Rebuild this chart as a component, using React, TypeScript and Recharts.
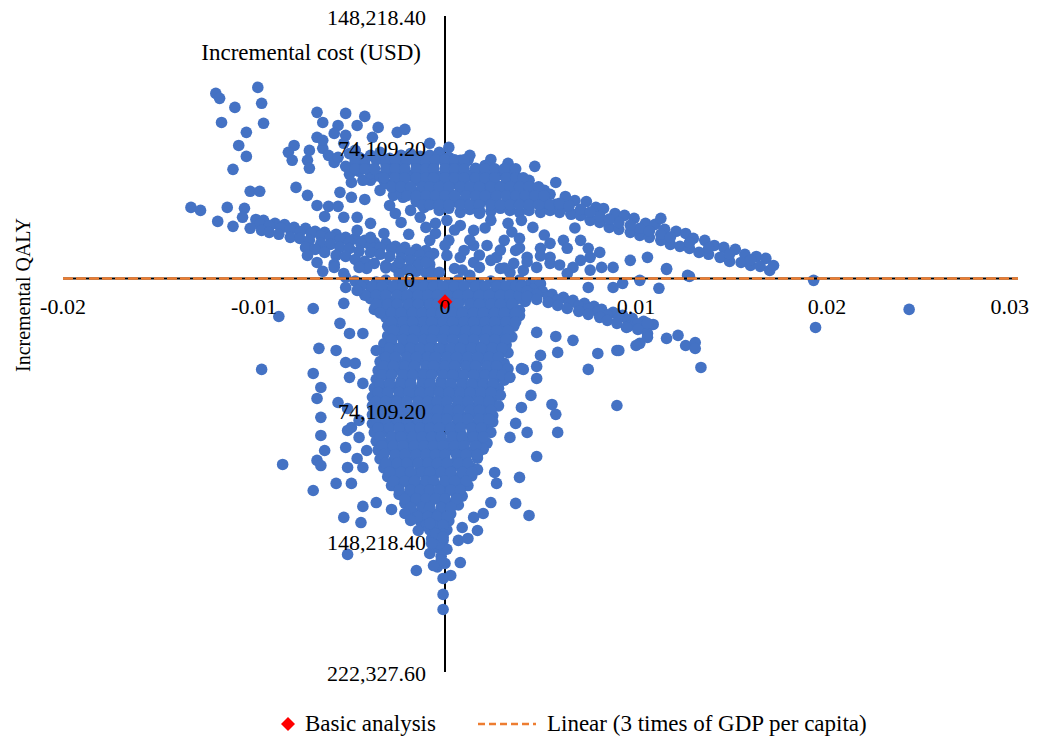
import React from 'react';
import { ScatterChart, Scatter, XAxis, YAxis, Legend } from 'recharts';

type Pair = [number, number];

// ---- Monte Carlo simulations: [incremental QALY, incremental cost (USD)] ----
const upperLeftOutliers: Pair[] = [
  [-0.0120,104500],[-0.0118,101700],[-0.0098,107900],[-0.0096,98900],[-0.0110,96600],[-0.0095,87600],
  [-0.0117,88100],[-0.0104,82500],[-0.0108,75100],[-0.0104,68900],[-0.0111,61600],[-0.0102,49200],
  [-0.0097,49200],[-0.0133,40100],[-0.0128,38400],[-0.0114,40100],[-0.0105,39600],[-0.0119,32200],
  [-0.0111,29400],[-0.0106,34500],
];

const leftBand: Pair[] = [
  [-0.0099,33300],[-0.0095,32800],[-0.0089,31100],[-0.0084,30400],[-0.0079,28800],[-0.0073,28300],
  [-0.0068,26600],[-0.0063,26000],[-0.0057,24900],[-0.0052,23200],[-0.0047,22600],[-0.0042,21500],
  [-0.0037,20300],[-0.0031,19800],[-0.0026,18100],[-0.0021,17500],[-0.0015,16400],[-0.0010,15800],
  [-0.0006,14100],
  [-0.0097,30500],[-0.0092,29800],[-0.0086,28400],[-0.0081,27600],[-0.0076,26300],[-0.0070,25400],
  [-0.0065,24100],[-0.0060,23300],[-0.0055,22000],[-0.0050,20600],[-0.0044,19600],[-0.0039,18400],
  [-0.0034,17300],[-0.0028,16500],[-0.0023,15200],[-0.0018,14300],[-0.0013,13100],[-0.0008,12200],
  [-0.0102,28300],[-0.0096,27100],[-0.0092,26000],[-0.0087,24900],[-0.0081,23200],[-0.0076,22600],
  [-0.0071,21500],[-0.0065,19800],[-0.0060,19200],[-0.0055,17500],[-0.0050,16900],[-0.0045,15300],
  [-0.0039,14700],[-0.0034,13600],[-0.0029,12400],[-0.0023,11300],[-0.0018,10200],[-0.0013,9000],
  [-0.0008,7900],
  [-0.0073,17500],[-0.0068,16400],[-0.0063,14700],[-0.0057,13000],[-0.0052,12400],[-0.0047,10700],
  [-0.0042,9600],[-0.0037,8500],[-0.0031,7300],[-0.0026,6200],[-0.0021,5100],[-0.0015,4000],[-0.0010,3400],
  [-0.0072,13000],[-0.0067,9000],[-0.0064,4000],[-0.0058,7900],[-0.0053,2800],[-0.0041,5600],
  [-0.0058,6200],[-0.0052,500],[-0.0045,6200],
  [-0.0031,5900],[-0.0024,2500],[-0.0014,7600],[-0.0007,3600],
];

const upperLeftScatter: Pair[] = [
  [-0.0078,51400],[-0.0072,46900],[-0.0067,41200],[-0.0061,40700],[-0.0063,35000],[-0.0056,40700],
  [-0.0055,48600],[-0.0049,45800],[-0.0042,44600],[-0.0053,34500],[-0.0046,34500],[-0.0039,31100],
  [-0.0049,54200],[-0.0039,55400],[-0.0032,55400],[-0.0034,49700],[-0.0027,46900],[-0.0022,45800],
  [-0.0029,41200],[-0.0011,40100],[-0.0013,34500],[-0.0005,31100],[-0.0005,25400],[-0.0032,25400],
  [-0.0039,23200],[-0.0046,27100],[-0.0043,55400],[-0.0038,57100],[-0.0018,38400],[-0.0010,28800],
  [-0.0023,31600],[-0.0008,21500],[-0.0019,24900],[-0.0026,36700],[-0.0015,44100],[-0.0008,46900],
];

const upperClusterTop: Pair[] = [
  [-0.0067,93800],[-0.0064,88100],[-0.0052,93200],[-0.0046,86400],[-0.0042,91500],[-0.0056,86400],
  [-0.0058,81900],[-0.0067,79700],[-0.0035,85300],[-0.0025,82500],[-0.0021,84200],[-0.0038,79700],
  [-0.0052,80800],[-0.0079,75100],[-0.0082,71200],[-0.0080,66700],[-0.0071,72300],[-0.0072,66700],
  [-0.0071,62200],[-0.0064,73500],[-0.0061,69500],[-0.0058,65500],[-0.0064,78000],[-0.0008,76300],
  [0.0002,74000],[-0.0053,76300],[-0.0047,72300],[-0.0056,68400],[0.0024,67200],[0.0033,65000],
  [0.0047,63300],[0.0058,54200],[0.0012,66700],
];

const upperClusterCore: Pair[] = [
  [-0.0050,70500],[-0.0045,68400],[-0.0039,69500],[-0.0034,71200],[-0.0029,67800],[-0.0023,69500],
  [-0.0018,70500],[-0.0013,68900],[-0.0008,69500],[-0.0003,71200],[0.0002,68400],[0.0008,66700],[0.0013,69500],
  [-0.0052,63300],[-0.0047,65500],[-0.0042,64400],[-0.0037,62200],[-0.0031,64900],[-0.0026,63800],
  [-0.0021,65500],[-0.0015,64400],[-0.0010,62700],[-0.0006,64400],[0.0000,65500],[0.0005,63300],
  [0.0010,64400],[0.0016,62200],[0.0021,63800],[0.0026,61600],[0.0032,62200],
  [-0.0050,58800],[-0.0045,60500],[-0.0039,59300],[-0.0034,57600],[-0.0029,59900],[-0.0023,59300],
  [-0.0018,58200],[-0.0013,60500],[-0.0008,59300],[-0.0003,57600],[0.0002,59300],[0.0008,60500],
  [0.0013,58200],[0.0018,59300],[0.0024,57100],[0.0029,58800],[0.0034,57600],[0.0039,56500],[0.0044,55400],
  [-0.0031,53700],[-0.0026,54800],[-0.0021,53100],[-0.0015,55400],[-0.0010,54200],[-0.0006,52500],
  [0.0000,54800],[0.0005,53700],[0.0010,55400],[0.0016,54200],[0.0021,52500],[0.0026,53700],
  [0.0032,54200],[0.0037,52000],[0.0041,53100],[0.0047,50900],[0.0052,49700],
  [-0.0023,48600],[-0.0018,50300],[-0.0013,49200],[-0.0008,47500],[-0.0003,49700],[0.0002,48600],
  [0.0008,50300],[0.0013,49200],[0.0018,47500],[0.0024,48600],[0.0029,49700],[0.0034,48000],
  [0.0039,49200],[0.0044,47500],[0.0050,46900],[0.0055,47500],
  [-0.0015,43500],[-0.0010,44600],[-0.0006,42400],[0.0000,45200],[0.0005,43500],[0.0010,44100],
  [0.0016,42900],[0.0021,44600],[0.0026,43500],[0.0032,42400],[0.0037,44100],[0.0041,42900],
  [0.0047,43500],[0.0052,42400],[0.0058,41800],[0.0063,40700],
  [-0.0003,38400],[0.0002,39600],[0.0008,37300],[0.0013,39000],[0.0018,38400],[0.0024,37900],
  [0.0029,39600],[0.0034,38400],[0.0039,37300],[0.0044,38400],[0.0050,37300],[0.0055,38400],
  [0.0060,37300],[0.0066,36200],[0.0071,35600],
];

// interior rows of the upper cluster: one cost per row, QALY values listed
const upperFillCosts = [67000, 61900, 56800, 51700, 46700, 41600];
const upperFillQaly: number[][] = [
  [-0.0047,-0.0042,-0.0036,-0.0031,-0.0026,-0.0020,-0.0015,-0.0010,-0.0005,0.0000,0.0005,0.0010],
  [-0.0047,-0.0042,-0.0037,-0.0031,-0.0026,-0.0021,-0.0015,-0.0010,-0.0006,0.0000,0.0005,0.0010,0.0016,0.0021,0.0026,0.0031,0.0037],
  [-0.0032,-0.0026,-0.0021,-0.0015,-0.0010,-0.0006,0.0000,0.0005,0.0010,0.0016,0.0021,0.0026,0.0032,0.0037,0.0041],
  [-0.0028,-0.0023,-0.0018,-0.0012,-0.0008,-0.0003,0.0002,0.0008,0.0013,0.0018,0.0024,0.0029,0.0034,0.0039,0.0044,0.0049],
  [-0.0020,-0.0015,-0.0010,-0.0005,0.0000,0.0005,0.0011,0.0016,0.0021,0.0027,0.0032,0.0037,0.0042,0.0047,0.0052],
  [-0.0012,-0.0008,-0.0003,0.0002,0.0008,0.0013,0.0018,0.0024,0.0029,0.0034,0.0039,0.0044,0.0049,0.0055,0.0060],
];

const upperRightBand: Pair[] = [
  [0.0063,46300],[0.0068,44000],[0.0074,43400],[0.0079,40200],[0.0083,39500],[0.0089,36700],
  [0.0094,35600],[0.0099,33900],[0.0105,31100],[0.0110,30500],[0.0115,27700],[0.0121,26600],
  [0.0126,25400],[0.0130,22600],[0.0136,21500],[0.0141,18600],[0.0146,17500],[0.0152,16400],
  [0.0157,13600],[0.0163,12400],[0.0168,11300],
  [0.0066,36700],[0.0071,35600],[0.0076,32800],[0.0081,31600],[0.0086,28800],[0.0091,27700],
  [0.0097,26000],[0.0102,24300],[0.0107,23200],[0.0113,21500],[0.0118,19200],[0.0123,18100],
  [0.0128,16900],[0.0133,14700],[0.0138,13600],[0.0144,11900],[0.0149,9600],[0.0155,9000],
  [0.0160,7300],[0.0165,6800],[0.0170,4500],
  [0.0060,42400],[0.0071,39000],[0.0081,35000],[0.0091,31600],[0.0102,28300],[0.0113,24900],
  [0.0065,41000],[0.0076,37500],[0.0086,33500],[0.0097,30000],[0.0107,26800],[0.0118,23300],
  [0.0128,20200],[0.0138,17000],[0.0149,13800],[0.0160,10500],
];

const aboveAxisScatter: Pair[] = [
  [0.0001,32800],[0.0008,29900],[0.0015,27100],[0.0022,18600],[0.0031,21500],[0.0037,15800],
  [0.0039,22600],[0.0046,28800],[0.0050,17000],[0.0055,19800],[0.0055,11900],[0.0062,21500],
  [0.0064,17000],[0.0071,21500],[0.0075,17000],[0.0076,11900],[0.0081,14700],[0.0067,6200],
  [0.0071,10200],[0.0027,11900],[0.0036,8500],[0.0043,11900],[0.0048,6200],[0.0055,8500],
  [0.0064,2800],[0.0082,6200],[0.0088,6200],[0.0097,10200],[0.0106,11900],[0.0116,5600],
  [0.0127,1700],[0.0113,33900],[0.0029,5600],[0.0015,9000],[0.0008,11900],[0.0015,18600],
  [0.0002,21500],[0.0001,13000],[0.0018,6200],[0.0005,5600],[0.0128,1100],[0.0116,5100],
  [0.0024,32800],[0.0033,31100],[0.0040,32800],[0.0018,36700],[0.0000,18600],[0.0010,15800],
  [0.0024,10200],[0.0034,3400],[0.0041,4500],[0.0013,1700],[-0.0003,3400],[-0.0010,9000],
  [-0.0018,4500],[-0.0024,9000],
  [0.0005,27300],[0.0013,21700],[0.0021,28500],[0.0029,16000],[0.0035,26200],[0.0043,9300],
  [0.0052,24500],[0.0060,7600],[0.0068,28500],[0.0076,4700],[0.0009,4700],[0.0018,13200],
  [0.0031,5900],[0.0039,17200],[0.0050,12700],
];

const coreBlob: Pair[] = [
  [-0.0047,-1500],[-0.0042,-3000],[-0.0036,-2000],[-0.0031,-1000],[-0.0025,-2500],[-0.0020,-2000],
  [-0.0014,-3000],[-0.0009,-1500],[-0.0004,-2000],[0.0002,-2500],[0.0007,-1000],[0.0013,-2000],
  [0.0018,-3000],[0.0024,-1500],[0.0029,-2500],[0.0035,-2000],[0.0039,-1000],[0.0045,-2500],[0.0050,-3000],
  [-0.0045,-6500],[-0.0039,-8000],[-0.0034,-7000],[-0.0028,-6000],[-0.0023,-7500],[-0.0017,-8000],
  [-0.0012,-6500],[-0.0007,-7000],[-0.0001,-7500],[0.0004,-6000],[0.0010,-7000],[0.0015,-8000],
  [0.0021,-6500],[0.0026,-7500],[0.0032,-7000],[0.0037,-6000],[0.0042,-8000],[0.0047,-7500],
  [-0.0039,-11500],[-0.0034,-12500],[-0.0028,-13000],[-0.0023,-11000],[-0.0017,-12000],[-0.0012,-12500],
  [-0.0007,-11500],[-0.0001,-13000],[0.0004,-12000],[0.0010,-11000],[0.0015,-12500],[0.0021,-12000],
  [0.0026,-13000],[0.0032,-11500],[0.0037,-12000],[0.0042,-13000],
  [-0.0037,-17500],[-0.0031,-16500],[-0.0026,-18000],[-0.0020,-17000],[-0.0015,-16000],[-0.0009,-17500],
  [-0.0005,-18000],[0.0001,-16500],[0.0007,-17000],[0.0012,-18000],[0.0018,-16500],[0.0023,-17500],
  [0.0029,-17000],[0.0034,-16000],[0.0039,-18000],
  [-0.0031,-22000],[-0.0026,-23000],[-0.0020,-21500],[-0.0015,-22500],[-0.0009,-23000],[-0.0005,-21500],
  [0.0001,-22000],[0.0007,-23000],[0.0012,-22500],[0.0018,-21500],[0.0023,-22000],[0.0029,-23000],
  [0.0034,-22000],[0.0039,-21000],
  [-0.0030,-27000],[-0.0024,-26500],[-0.0019,-28000],[-0.0013,-27500],[-0.0008,-26500],[-0.0003,-27000],
  [0.0003,-28000],[0.0008,-26500],[0.0014,-27500],[0.0019,-27000],[0.0025,-28000],[0.0030,-26500],[0.0036,-27000],
  [-0.0030,-32500],[-0.0025,-31500],[-0.0019,-32000],[-0.0014,-33000],[-0.0008,-31500],[-0.0004,-32500],
  [0.0002,-32000],[0.0008,-31000],[0.0013,-33000],[0.0019,-32000],[0.0024,-31500],[0.0030,-32500],[0.0035,-33000],
  [-0.0032,-37000],[-0.0028,-36500],[-0.0022,-38000],[-0.0017,-37000],[-0.0011,-36000],[-0.0007,-37500],
  [-0.0001,-38000],[0.0005,-36500],[0.0010,-37000],[0.0016,-38000],[0.0021,-36500],[0.0027,-37000],[0.0032,-37500],
  [-0.0032,-42000],[-0.0027,-43000],[-0.0021,-41500],[-0.0016,-42500],[-0.0010,-43000],[-0.0006,-41500],
  [0.0000,-42000],[0.0006,-43000],[0.0011,-42500],[0.0017,-41500],[0.0022,-42000],[0.0028,-43000],[0.0033,-42000],
  [-0.0034,-47000],[-0.0029,-46500],[-0.0024,-48000],[-0.0018,-47000],[-0.0013,-46000],[-0.0008,-47500],
  [-0.0002,-48000],[0.0003,-46500],[0.0009,-47000],[0.0014,-48000],[0.0020,-46500],[0.0025,-47000],[0.0031,-48000],
  [-0.0035,-52000],[-0.0031,-53000],[-0.0026,-51500],[-0.0021,-52500],[-0.0015,-53000],[-0.0010,-51500],
  [-0.0005,-52000],[0.0001,-53000],[0.0006,-52500],[0.0012,-51500],[0.0017,-52000],[0.0023,-53000],
  [0.0028,-52000],[0.0033,-51000],
  [-0.0036,-57000],[-0.0029,-56500],[-0.0023,-58000],[-0.0018,-57000],[-0.0012,-56000],[-0.0008,-57500],
  [-0.0002,-58000],[0.0004,-56500],[0.0009,-57000],[0.0015,-58000],[0.0020,-56500],[0.0026,-57000],[0.0031,-57500],
  [-0.0037,-62000],[-0.0032,-63000],[-0.0026,-61500],[-0.0021,-62500],[-0.0015,-63000],[-0.0010,-61500],
  [-0.0005,-62000],[0.0001,-63000],[0.0006,-62500],[0.0012,-61500],[0.0017,-62000],[0.0023,-63000],[0.0028,-62000],
  [-0.0038,-67000],[-0.0034,-66500],[-0.0029,-68000],[-0.0024,-67000],[-0.0018,-66000],[-0.0013,-67500],
  [-0.0008,-68000],[-0.0002,-66500],[0.0003,-67000],[0.0009,-68000],[0.0014,-66500],[0.0020,-67000],
  [0.0025,-67500],[0.0029,-66000],
  [-0.0038,-72000],[-0.0032,-73000],[-0.0027,-71500],[-0.0021,-72500],[-0.0016,-73000],[-0.0010,-71500],
  [-0.0006,-72000],[0.0000,-73000],[0.0006,-72500],[0.0011,-71500],[0.0017,-72000],[0.0022,-73000],[0.0028,-72000],
  [-0.0038,-77000],[-0.0034,-76500],[-0.0029,-78000],[-0.0024,-77000],[-0.0018,-76000],[-0.0013,-77500],
  [-0.0008,-78000],[-0.0002,-76500],[0.0003,-77000],[0.0009,-78000],[0.0014,-76500],[0.0020,-77000],[0.0025,-77500],
  [-0.0038,-82000],[-0.0032,-83000],[-0.0027,-81500],[-0.0021,-82500],[-0.0016,-83000],[-0.0010,-81500],
  [-0.0006,-82000],[0.0000,-83000],[0.0006,-82500],[0.0011,-81500],[0.0017,-82000],[0.0022,-83000],[0.0025,-81000],
  [-0.0037,-87000],[-0.0030,-86500],[-0.0024,-88000],[-0.0019,-87000],[-0.0013,-86000],[-0.0008,-87500],
  [-0.0003,-88000],[0.0003,-86500],[0.0008,-87000],[0.0014,-88000],[0.0019,-86500],[0.0024,-87000],
  [-0.0036,-92000],[-0.0032,-93000],[-0.0027,-91500],[-0.0021,-92500],[-0.0016,-93000],[-0.0010,-91500],
  [-0.0006,-92000],[0.0000,-93000],[0.0006,-92500],[0.0011,-91500],[0.0017,-92000],[0.0022,-93000],
  [-0.0035,-97000],[-0.0029,-96500],[-0.0024,-98000],[-0.0018,-97000],[-0.0013,-96000],[-0.0008,-97500],
  [-0.0002,-98000],[0.0003,-96500],[0.0009,-97000],[0.0014,-98000],[0.0020,-96500],
  [-0.0034,-102000],[-0.0027,-103000],[-0.0021,-101500],[-0.0016,-102500],[-0.0010,-103000],[-0.0006,-101500],
  [0.0000,-102000],[0.0006,-103000],[0.0011,-102500],[0.0017,-101500],
  [-0.0032,-107000],[-0.0028,-108000],[-0.0024,-106500],[-0.0019,-107000],[-0.0013,-108000],[-0.0008,-106000],
  [-0.0003,-107500],[0.0003,-108000],[0.0008,-106500],[0.0014,-107000],[0.0017,-108000],
  [-0.0030,-112000],[-0.0026,-113000],[-0.0021,-111500],[-0.0016,-112500],[-0.0010,-113000],[-0.0006,-111500],
  [0.0000,-112000],[0.0006,-113000],[0.0011,-112500],[0.0014,-111500],
  [-0.0028,-117000],[-0.0024,-116500],[-0.0018,-118000],[-0.0013,-117000],[-0.0008,-116000],[-0.0002,-117500],
  [0.0003,-118000],[0.0009,-116500],[0.0012,-117000],
  [-0.0024,-122000],[-0.0020,-123000],[-0.0015,-121500],[-0.0010,-122500],[-0.0006,-123000],[0.0000,-121500],
  [0.0006,-122000],[0.0009,-123000],
  [-0.0021,-127000],[-0.0017,-126500],[-0.0012,-128000],[-0.0008,-127000],[-0.0002,-126000],[0.0003,-127500],[0.0007,-128000],
  [-0.0017,-132000],[-0.0012,-133000],[-0.0008,-131500],[-0.0003,-132500],[0.0003,-133000],
  [-0.0013,-137000],[-0.0008,-138000],[-0.0004,-136500],[0.0002,-137000],
  [-0.0008,-142000],[-0.0004,-143000],[0.0001,-142000],
  [-0.0007,-147000],[-0.0001,-148000],
  [-0.0004,-152000],[0.0001,-153000],
];

// interior rows of the central cloud: one cost per row, QALY values listed
const coreFillCosts = [
  -4500, -9500, -14500, -19500, -24500, -29500, -34500, -39500, -44500, -49500,
  -54500, -59500, -64500, -69500, -74500, -79500, -84500, -89500, -94500, -99500,
  -104500, -109500, -114500, -119500, -124500, -129500, -134500, -139500, -144500, -150000,
];
const coreFillQaly: number[][] = [
  [-0.0044,-0.0038,-0.0033,-0.0027,-0.0022,-0.0016,-0.0011,-0.0006,-0.0001,0.0005,0.0010,0.0016,0.0021,0.0027,0.0032,0.0037,0.0042],
  [-0.0042,-0.0036,-0.0031,-0.0025,-0.0020,-0.0014,-0.0009,-0.0004,0.0001,0.0007,0.0012,0.0018,0.0023,0.0029,0.0034,0.0039],
  [-0.0036,-0.0030,-0.0025,-0.0019,-0.0014,-0.0008,-0.0004,0.0002,0.0007,0.0013,0.0018,0.0024,0.0029,0.0035],
  [-0.0034,-0.0028,-0.0023,-0.0017,-0.0012,-0.0007,-0.0002,0.0004,0.0009,0.0015,0.0020,0.0026,0.0031,0.0037],
  [-0.0028,-0.0022,-0.0017,-0.0011,-0.0007,-0.0001,0.0004,0.0010,0.0015,0.0021,0.0026,0.0032,0.0037],
  [-0.0027,-0.0021,-0.0016,-0.0010,-0.0006,0.0000,0.0005,0.0011,0.0016,0.0022,0.0027,0.0033],
  [-0.0028,-0.0022,-0.0017,-0.0011,-0.0007,-0.0001,0.0004,0.0010,0.0015,0.0021,0.0026,0.0032],
  [-0.0029,-0.0024,-0.0018,-0.0013,-0.0008,-0.0003,0.0003,0.0008,0.0014,0.0019,0.0025,0.0030],
  [-0.0031,-0.0026,-0.0020,-0.0015,-0.0009,-0.0005,0.0001,0.0006,0.0012,0.0017,0.0023,0.0028],
  [-0.0032,-0.0027,-0.0021,-0.0016,-0.0010,-0.0006,0.0000,0.0005,0.0011,0.0016,0.0022,0.0027],
  [-0.0033,-0.0028,-0.0022,-0.0017,-0.0011,-0.0007,-0.0001,0.0004,0.0010,0.0015,0.0021,0.0026,0.0030],
  [-0.0034,-0.0029,-0.0023,-0.0018,-0.0012,-0.0008,-0.0002,0.0003,0.0009,0.0014,0.0020,0.0025],
  [-0.0035,-0.0030,-0.0024,-0.0019,-0.0013,-0.0008,-0.0003,0.0002,0.0008,0.0013,0.0019,0.0024],
  [-0.0036,-0.0031,-0.0025,-0.0020,-0.0014,-0.0009,-0.0004,0.0001,0.0007,0.0012,0.0018,0.0023],
  [-0.0036,-0.0030,-0.0025,-0.0019,-0.0014,-0.0008,-0.0004,0.0002,0.0007,0.0013,0.0018,0.0024],
  [-0.0036,-0.0031,-0.0025,-0.0020,-0.0014,-0.0009,-0.0004,0.0001,0.0007,0.0012,0.0018,0.0023],
  [-0.0035,-0.0029,-0.0024,-0.0018,-0.0013,-0.0008,-0.0003,0.0003,0.0008,0.0014,0.0019],
  [-0.0034,-0.0028,-0.0023,-0.0017,-0.0012,-0.0007,-0.0002,0.0004,0.0009,0.0015,0.0020],
  [-0.0033,-0.0027,-0.0022,-0.0016,-0.0011,-0.0006,-0.0001,0.0005,0.0010,0.0016],
  [-0.0032,-0.0026,-0.0021,-0.0015,-0.0010,-0.0005,0.0000,0.0006,0.0011,0.0017],
  [-0.0031,-0.0025,-0.0020,-0.0014,-0.0009,-0.0004,0.0001,0.0007,0.0012],
  [-0.0029,-0.0023,-0.0018,-0.0012,-0.0008,-0.0002,0.0003,0.0009,0.0014],
  [-0.0027,-0.0021,-0.0016,-0.0010,-0.0006,0.0000,0.0005,0.0011],
  [-0.0024,-0.0018,-0.0013,-0.0008,-0.0003,0.0003,0.0008],
  [-0.0021,-0.0015,-0.0010,-0.0005,0.0000,0.0006],
  [-0.0018,-0.0012,-0.0008,-0.0002,0.0003],
  [-0.0014,-0.0009,-0.0004,0.0001],
  [-0.0010,-0.0006,-0.0001],
  [-0.0006,-0.0001],
  [-0.0003],
];

const blobFringe: Pair[] = [
  [-0.0069,-17000],[-0.0066,-39500],[-0.0057,-40700],[-0.0069,-53700],[-0.0065,-61600],[-0.0067,-67800],
  [-0.0065,-78500],[-0.0065,-88700],[-0.0063,-97200],[-0.0067,-102800],[-0.0055,-25400],[-0.0053,-14100],
  [-0.0052,-5100],[-0.0046,-6800],[-0.0050,-31100],[-0.0043,-31100],[-0.0052,-47500],[-0.0047,-48000],
  [-0.0050,-55900],[-0.0043,-59300],[-0.0056,-70100],[-0.0051,-73500],[-0.0045,-80200],[-0.0051,-85900],
  [-0.0052,-95500],[-0.0046,-101700],[-0.0051,-106800],[-0.0043,-106800],[-0.0036,-40700],[-0.0087,-21500],
  [-0.0096,-51400],[-0.0085,-105100],[-0.0069,-119800],[-0.0057,-115800],[-0.0049,-115800],[-0.0065,-105700],
  [-0.0053,-135000],[-0.0043,-128800],[-0.0044,-137900],[-0.0051,-155900],[-0.0036,-126600],[-0.0028,-130500],
  [-0.0021,-132800],[-0.0049,-84200],[-0.0045,-89800],[-0.0041,-97200],
  [0.0037,-127100],[0.0044,-133900],[0.0048,-100600],[0.0039,-112400],[0.0027,-115800],[0.0026,-109600],
  [0.0024,-126600],[0.0040,-50900],[0.0048,-49700],[0.0048,-56500],[0.0045,-66100],[0.0040,-72900],
  [0.0056,-71200],[0.0058,-76800],[0.0059,-87000],[0.0043,-87000],[0.0037,-81900],[0.0034,-89800],
  [0.0090,-71800],[0.0075,-51400],[0.0090,-40700],
];

const lowerTail: Pair[] = [
  [-0.0015,-165000],[-0.0008,-155400],[0.0008,-160500],[0.0003,-167800],[-0.0001,-169500],[-0.0001,-178500],
  [-0.0001,-187000],[-0.0002,-157000],[0.0000,-161000],[-0.0004,-163000],[-0.0005,-144100],[-0.0008,-138400],
  [-0.0018,-136700],[-0.0014,-142400],[-0.0007,-149700],[-0.0001,-146300],[-0.0002,-159300],[-0.0006,-162200],
  [0.0007,-148000],[0.0012,-146900],[0.0017,-142400],[0.0009,-140700],[0.0015,-135000],[0.0020,-132800],
];

const rightBranch: Pair[] = [
  [0.0040,-4500],[0.0046,-6200],[0.0051,-7300],[0.0056,-9000],[0.0062,-10700],[0.0067,-12400],
  [0.0073,-14100],[0.0078,-15800],[0.0082,-17500],[0.0088,-19200],[0.0093,-20900],[0.0098,-22600],
  [0.0104,-24300],[0.0109,-26000],
  [0.0043,-7300],[0.0048,-9000],[0.0054,-10400],[0.0059,-12100],[0.0065,-13800],[0.0070,-15500],
  [0.0075,-17200],[0.0080,-18800],[0.0085,-20500],[0.0091,-22300],[0.0096,-24000],[0.0101,-25700],[0.0106,-27600],
  [0.0043,-10200],[0.0048,-11900],[0.0054,-13600],[0.0059,-15300],[0.0064,-17000],[0.0070,-18600],
  [0.0075,-20300],[0.0081,-22000],[0.0085,-23700],[0.0090,-25400],[0.0096,-27100],[0.0101,-28800],[0.0106,-31100],
  [0.0048,-30500],[0.0058,-32800],[0.0067,-35000],[0.0080,-42400],[0.0091,-40700],[0.0102,-36700],
  [0.0059,-41800],[0.0050,-43500],[0.0041,-51400],[0.0095,-27700],[0.0106,-25400],[0.0106,-33300],
  [0.0116,-33900],[0.0122,-32200],[0.0126,-37900],[0.0131,-36200],[0.0131,-39600],[0.0134,-50300],
  [0.0100,-37900],[0.0034,-55900],[0.0075,-5100],[0.0088,-5100],[0.0093,-2800],[0.0112,-5600],[0.0102,-1100],
];

const farOutliers: Pair[] = [
  [0.0193,-1100],[0.0194,-27700],[0.0243,-17500],[0.0172,7300],
];

const basicAnalysis: Pair[] = [[0.0000, -13200]];

// Linear trend (3 times of GDP per capita), drawn along the x axis
const trendLine: Pair[] = [[-0.02, 0],[0.03, 0]];

// ---- axes ----
const xDomain: [number, number] = [-0.02, 0.03];
const yDomain: [number, number] = [-222327.6, 148218.4];
const xTicks = [-0.02, -0.01, 0, 0.01, 0.02, 0.03];
const xTickLabels = ['-0.02', '-0.01', '0', '0.01', '0.02', '0.03'];
const yTicks = [148218.4, 74109.2, 0, -74109.2, -148218.4, -222327.6];
const yTickLabels = ['148,218.40', '74,109.20', '0', '74,109.20', '148,218.40', '222,327.60'];

const FONT = "'Liberation Serif', 'Times New Roman', serif";
const BLUE = '#4472C4';
const ORANGE = '#ED7D31';
const CHART_W = 1022;
const CHART_H = 728;

const toPts = (arr: Pair[]) => arr.map(([x, y]) => ({ x, y }));
const rowsToPairs = (costs: number[], qalys: number[][]): Pair[] =>
  costs.flatMap((c, i) => qalys[i].map((q) => [q, c] as Pair));

const simulations = toPts([
  ...upperLeftOutliers, ...leftBand, ...upperLeftScatter, ...upperClusterTop, ...upperClusterCore,
  ...rowsToPairs(upperFillCosts, upperFillQaly),
  ...upperRightBand, ...aboveAxisScatter, ...coreBlob, ...rowsToPairs(coreFillCosts, coreFillQaly),
  ...blobFringe, ...lowerTail, ...rightBranch, ...farOutliers,
]);

const xAxisLineData = toPts([[xDomain[0], 0], [xDomain[1], 0]]);
const yAxisLineData = toPts([[0, yDomain[0]], [0, yDomain[1]]]);
const xTickData = xTicks.map((v, i) => ({ x: v, y: 0, label: xTickLabels[i] }));
const yTickData = yTicks.map((v, i) => ({ x: 0, y: v, label: yTickLabels[i] }));

const Dot = (p: any) => <circle cx={p.cx} cy={p.cy} r={5.8} fill={BLUE} />;
const Diamond = (p: any) => (
  <polygon
    points={`${p.cx},${p.cy - 7.5} ${p.cx + 7.5},${p.cy} ${p.cx},${p.cy + 7.5} ${p.cx - 7.5},${p.cy}`}
    fill="#FF0000"
  />
);
const NoShape = () => <g />;
const XTickText = (p: any) => {
  // keep the last label inside the drawing surface
  const nearEdge = p.cx + 20 > CHART_W;
  return (
    <text
      x={nearEdge ? CHART_W - 1 : p.cx}
      y={p.cy + 36}
      textAnchor={nearEdge ? 'end' : 'middle'}
      fontFamily={FONT}
      fontSize={22}
      fill="#000"
    >
      {p.payload.label}
    </text>
  );
};
const YTickText = (p: any) => (
  <text
    x={p.cx - (p.payload.label === '0' ? 30 : 19)}
    y={p.cy + 9}
    textAnchor="end"
    fontFamily={FONT}
    fontSize={22}
    fill="#000"
  >
    {p.payload.label}
  </text>
);

const LegendContent = (props: any) => {
  const items = (props.payload || []).filter((e: any) => e.type !== 'none');
  return (
    <div style={{ display: 'flex', alignItems: 'center', fontFamily: FONT, fontSize: 23, color: '#000', whiteSpace: 'nowrap' }}>
      {items.map((e: any, i: number) => (
        <div key={i} style={{ display: 'flex', alignItems: 'center', marginLeft: i === 0 ? 0 : 40 }}>
          {e.value === 'Basic analysis' ? (
            <svg width={16} height={16}>
              <polygon points="8,1 15,8 8,15 1,8" fill="#FF0000" />
            </svg>
          ) : (
            <svg width={62} height={10}>
              <line x1={2} y1={5} x2={60} y2={5} stroke={ORANGE} strokeWidth={2.5} strokeDasharray="7 4" />
            </svg>
          )}
          <span style={{ marginLeft: 9 }}>{e.value}</span>
        </div>
      ))}
    </div>
  );
};

export default function App() {
  return (
    <div style={{ position: 'relative', top: -4, width: CHART_W, height: CHART_H, background: '#fff' }}>
      <ScatterChart
        width={CHART_W}
        height={CHART_H}
        margin={{ top: 12, right: 12, bottom: 60, left: 55 }}
        style={{ overflow: 'visible' }}
      >
        <XAxis type="number" dataKey="x" domain={xDomain} hide />
        <YAxis type="number" dataKey="y" domain={yDomain} hide />
        <Scatter
          name="yAxisLine"
          data={yAxisLineData}
          line={{ stroke: '#000', strokeWidth: 2 }}
          lineType="joint"
          shape={NoShape}
          legendType="none"
          isAnimationActive={false}
        />
        <Scatter name="Simulations" data={simulations} shape={Dot} legendType="none" isAnimationActive={false} />
        <Scatter
          name="xAxisLine"
          data={xAxisLineData}
          line={{ stroke: '#000', strokeWidth: 2 }}
          lineType="joint"
          shape={NoShape}
          legendType="none"
          isAnimationActive={false}
        />
        <Scatter
          name="Basic analysis"
          data={toPts(basicAnalysis)}
          shape={Diamond}
          fill="#FF0000"
          legendType="diamond"
          isAnimationActive={false}
        />
        <Scatter
          name="Linear (3 times of GDP per capita)"
          data={toPts(trendLine)}
          line={{ stroke: ORANGE, strokeWidth: 2.5, strokeDasharray: '10 3' }}
          lineType="joint"
          shape={NoShape}
          fill={ORANGE}
          legendType="line"
          isAnimationActive={false}
        />
        <Scatter name="xTicks" data={xTickData} shape={XTickText} legendType="none" isAnimationActive={false} />
        <Scatter name="yTicks" data={yTickData} shape={YTickText} legendType="none" isAnimationActive={false} />
        <Legend
          verticalAlign="middle"
          layout="horizontal"
          content={LegendContent}
          wrapperStyle={{ top: 707, left: 272, width: 'auto', height: 'auto' }}
        />
      </ScatterChart>
      <svg
        width={CHART_W}
        height={CHART_H}
        style={{ position: 'absolute', left: 0, top: 0, pointerEvents: 'none' }}
      >
        <text x={413} y={56} textAnchor="end" fontFamily={FONT} fontSize={23} fill="#000">
          Incremental cost (USD)
        </text>
        <text
          transform="translate(22,291) rotate(-90)"
          textAnchor="middle"
          fontFamily={FONT}
          fontSize={20}
          fill="#000"
        >
          Incremental QALY
        </text>
      </svg>
    </div>
  );
}
